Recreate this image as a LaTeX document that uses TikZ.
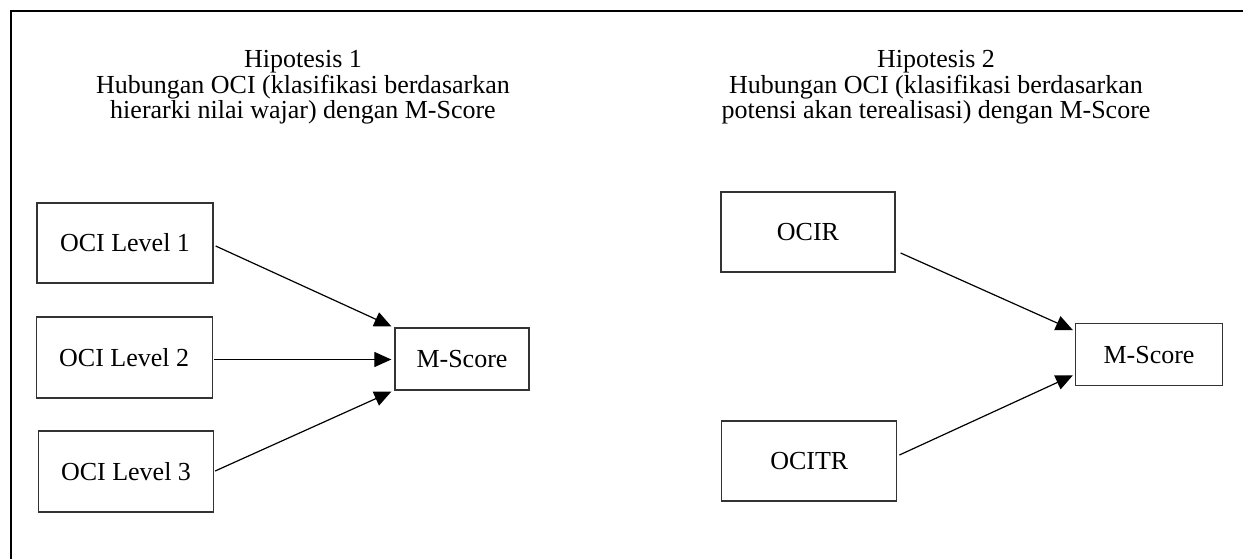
\documentclass[tikz,border=0pt]{standalone}
\usepackage{fontspec}
\setmainfont{Liberation Serif}
\usetikzlibrary{arrows.meta,calc}
\begin{document}
\begin{tikzpicture}[x=1pt,y=-1pt,
  every node/.style={font=\fontsize{26}{25.6}\selectfont},
  box/.style={draw=black!80,line width=1.3pt,inner sep=0pt},
  heading/.style={align=center,inner sep=0pt,anchor=north},
  arr/.style={line width=1.2pt,-{Triangle[length=17pt,width=15pt]}}]
\useasboundingbox (0,0) rectangle (1243,559);
% frame (only top and left visible)
\draw[line width=2.2pt] (1243,11) -- (11,11) -- (11,559);
% headings
\node[heading] (h1) at (303,50) {Hipotesis 1\\Hubungan OCI (klasifikasi berdasarkan\\hierarki nilai wajar) dengan M-Score};
\node[heading] (h2) at (936,50) {Hipotesis 2\\Hubungan OCI (klasifikasi berdasarkan\\potensi akan terealisasi) dengan M-Score};
% left group
\node[box,minimum width=176pt,minimum height=80pt] (l1) at (125,243) {OCI Level 1};
\node[box,minimum width=176pt,minimum height=81pt] (l2) at (124.2,357.5) {OCI Level 2};
\node[box,minimum width=175pt,minimum height=81pt] (l3) at (126,471.5) {OCI Level 3};
\node[box,minimum width=134pt,minimum height=62pt] (m1) at (462,359) {M-Score};
% right group
\node[box,minimum width=174pt,minimum height=80pt] (r1) at (808,232) {OCIR};
\node[box,minimum width=175pt,minimum height=80pt] (r2) at (809.3,461) {OCITR};
\node[box,minimum width=147pt,minimum height=62pt] (m2) at (1149,354.7) {M-Score};
% arrows
\draw[arr] ([shift={(2,3)}]l1.east) -- ([shift={(-3,-1)}]m1.north west);
\draw[arr] ([shift={(1,2)}]l2.east) -- ([shift={(-3,0.5)}]m1.west);
\draw[arr] ([shift={(1,-0.5)}]l3.east) -- ([shift={(-3,1)}]m1.south west);
\draw[arr] ([shift={(5,21)}]r1.east) -- ([shift={(-2,7)}]m2.north west);
\draw[arr] ([shift={(2,-6)}]r2.east) -- ([shift={(-2,-11)}]m2.south west);
\end{tikzpicture}
\end{document}
